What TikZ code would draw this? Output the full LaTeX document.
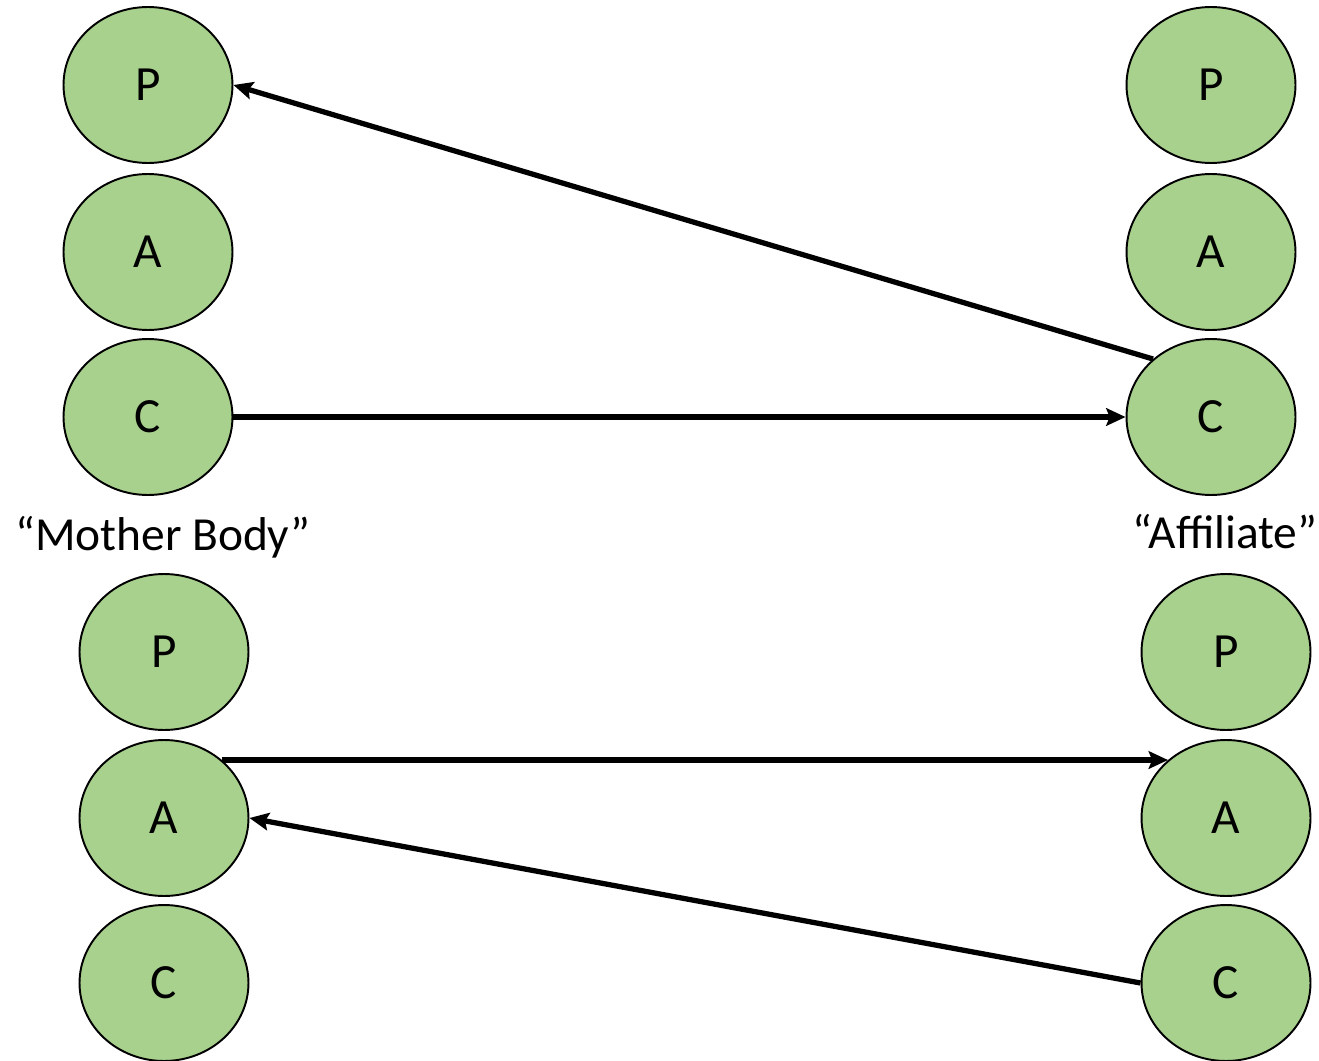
\documentclass[tikz,border=0pt]{standalone}
\usepackage{fontspec}
\setmainfont{Carlito}
\usepackage{xcolor}
\usetikzlibrary{arrows.meta, shapes.geometric}
\definecolor{leafgreen}{HTML}{A9D18E}

\begin{document}
\begin{tikzpicture}[
			x = 0.02cm, y = -0.02cm, % one unit is one pixel
			> = {Stealth[length=11pt, width=10pt, inset=2pt]}, % arrow head style
			line width = 3pt, % line style
			role/.style = {ellipse, draw, fill=leafgreen, line width=1.1pt,
				minimum width=3.38cm, minimum height=3.12cm, inner sep=0pt,
				font=\fontsize{28}{32}\selectfont},
			caption/.style = {anchor=base, font=\fontsize{27}{32}\selectfont},
		]
		\useasboundingbox (0,0) rectangle (1319,1061);
		% mother body, top
		\node[role] (p1) at (148, 85){P};
		\node[role] (a1) at (148, 252){A};
		\node[role] (c1) at (148, 417){C};
		% affiliate, top
		\node[role] (p2) at (1211, 85){P};
		\node[role] (a2) at (1211, 252){A};
		\node[role] (c2) at (1211, 417){C};
		\node[caption] (mother) at (163, 550){``Mother Body''};
		\node[caption] (affil) at (1225, 548){``Affiliate''};
		% mother body, bottom
		\node[role] (p3) at (164, 652){P};
		\node[role] (a3) at (164, 818){A};
		\node[role] (c3) at (164, 983){C};
		% affiliate, bottom
		\node[role] (p4) at (1226, 652){P};
		\node[role] (a4) at (1226, 818){A};
		\node[role] (c4) at (1226, 983){C};
		\draw[->] (c2.135) to (p1.east);
		\draw[->] (c1.east) to (c2.west);
		\draw[->] (a3.45) to (a4.135);
		\draw[->] (c4.west) to (a3.east);
		\end{tikzpicture}
\end{document}
